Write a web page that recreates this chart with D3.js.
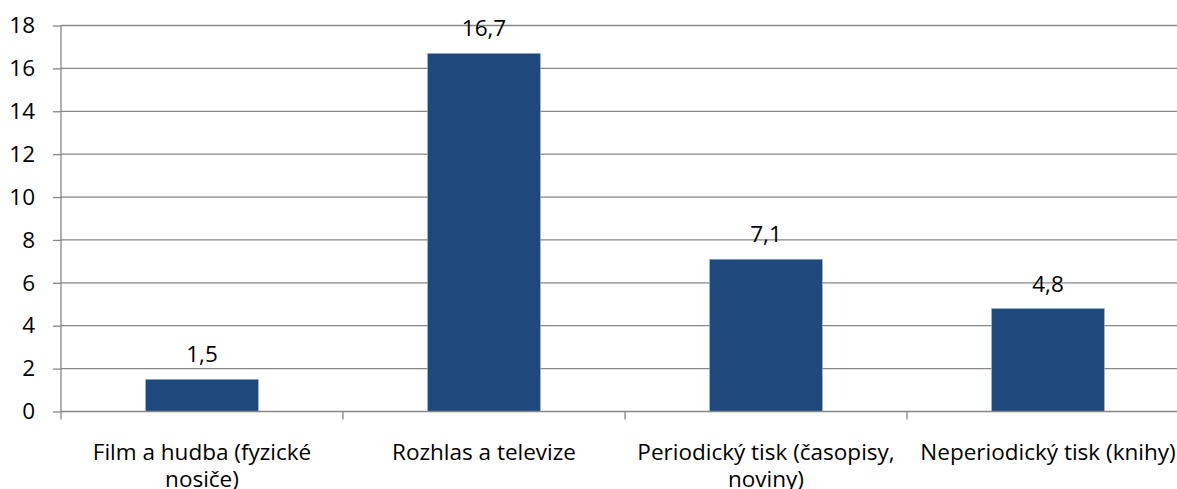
<!doctype html>
<html>
<head>
<meta charset="utf-8">
<title>Bar chart</title>
<script src="https://cdn.jsdelivr.net/npm/d3@7"></script>
<style>
  body { margin: 0; background: white; }
  svg { display: block; font-family: "Open Sans", sans-serif; }
</style>
</head>
<body>
<svg id="chart" width="1177" height="489"></svg>
<script>
// data
var categories = ['Film a hudba (fyzické\nnosiče)', 'Rozhlas a televize', 'Periodický tisk (časopisy,\nnoviny)', 'Neperiodický tisk (knihy)'];
var values = [1.5, 16.7, 7.1, 4.8];
var yTicks = [0, 2, 4, 6, 8, 10, 12, 14, 16, 18];

var svg = d3.select('#chart');
var plotLeft = 61, plotRight = 1189, plotTop = 25.5, plotBottom = 411.5;
var fontSize = 22.5;

var x = d3.scaleBand()
    .domain(categories)
    .range([plotLeft, plotRight])
    .paddingInner(0.6)
    .paddingOuter(0.3);

var y = d3.scaleLinear()
    .domain([0, 18])
    .range([plotBottom, plotTop]);

var step = (plotRight - plotLeft) / categories.length;

// gridlines
svg.append('g')
  .selectAll('line')
  .data(yTicks.slice(1))
  .enter().append('line')
    .attr('x1', plotLeft).attr('x2', 1177)
    .attr('y1', function (d) { return y(d); })
    .attr('y2', function (d) { return y(d); })
    .attr('stroke', '#878787')
    .attr('stroke-width', 1.3);

// bars
svg.append('g')
  .selectAll('rect')
  .data(values)
  .enter().append('rect')
    .attr('x', function (d, i) { return x(categories[i]); })
    .attr('y', function (d) { return y(d); })
    .attr('width', x.bandwidth())
    .attr('height', function (d) { return y(0) - y(d); })
    .attr('fill', '#1f497d')
    .attr('stroke', '#9fb4cf')
    .attr('stroke-width', 0.6);

// y axis
var yAxis = svg.append('g')
    .attr('transform', 'translate(' + plotLeft + ',0)')
    .call(d3.axisLeft(y).tickValues(yTicks).tickSize(8).tickPadding(18));
yAxis.select('.domain').attr('stroke', '#878787').attr('stroke-width', 1.3).attr('d', 'M0,' + plotTop + 'V' + plotBottom);
yAxis.selectAll('.tick line').attr('stroke', '#878787').attr('stroke-width', 1.3);
yAxis.selectAll('.tick text').attr('font-size', fontSize).attr('fill', '#000').attr('font-family', '"Open Sans", sans-serif');

// x axis
var xAxis = svg.append('g')
    .attr('transform', 'translate(0,' + plotBottom + ')');
xAxis.append('line')
    .attr('x1', plotLeft).attr('x2', 1177)
    .attr('stroke', '#878787').attr('stroke-width', 1.3);
xAxis.selectAll('.xtick')
  .data(d3.range(categories.length + 1))
  .enter().append('line')
    .attr('x1', function (d) { return plotLeft + d * step; })
    .attr('x2', function (d) { return plotLeft + d * step; })
    .attr('y1', 0).attr('y2', 8)
    .attr('stroke', '#878787').attr('stroke-width', 1.3);

var catLabels = xAxis.selectAll('.cat')
  .data(categories)
  .enter().append('text')
    .attr('text-anchor', 'middle')
    .attr('font-size', fontSize)
    .attr('fill', '#000')
    .attr('transform', function (d) { return 'translate(' + (x(d) + x.bandwidth() / 2) + ',0)'; });
catLabels.each(function (d) {
  var lines = d.split('\n');
  var t = d3.select(this);
  lines.forEach(function (l, i) {
    t.append('tspan').attr('x', 0).attr('y', 48.5 + i * 27).text(l);
  });
});

// value labels
svg.append('g')
  .selectAll('text')
  .data(values)
  .enter().append('text')
    .attr('x', function (d, i) { return x(categories[i]) + x.bandwidth() / 2; })
    .attr('y', function (d) { return y(d) - 17; })
    .attr('text-anchor', 'middle')
    .attr('font-size', fontSize)
    .attr('fill', '#000')
    .text(function (d) { return String(d).replace('.', ','); });
</script>
</body>
</html>
